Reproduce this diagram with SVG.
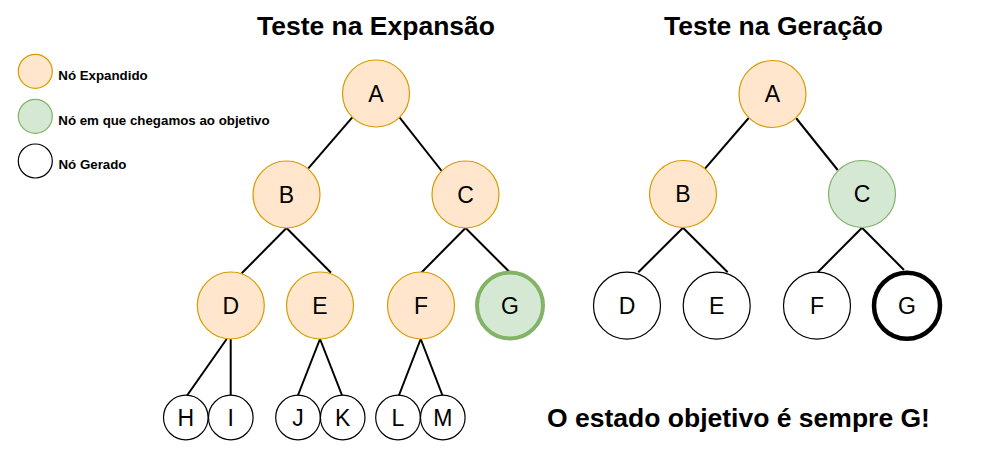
<svg xmlns="http://www.w3.org/2000/svg" width="994" height="458" viewBox="0 0 994 458">
<style>
.bg{fill:#ffffff}
.exp{fill:#ffe6cc;stroke:#d79b00;stroke-width:1.2}
.goal{fill:#d5e8d4;stroke:#82b366;stroke-width:1.2}
.goalT{fill:#d5e8d4;stroke:#82b366;stroke-width:4}
.gen{fill:#ffffff;stroke:#000000;stroke-width:1.2}
.genT{fill:#ffffff;stroke:#000000;stroke-width:4.5}
.lbl{font-family:"Liberation Sans",Arial,sans-serif;font-size:23px;fill:#000000;text-anchor:middle}
.title{font-family:"Liberation Sans",Arial,sans-serif;font-size:26.5px;font-weight:bold;fill:#000000;text-anchor:middle}
.leg{font-family:"Liberation Sans",Arial,sans-serif;font-size:13.3px;font-weight:bold;fill:#000000}
.edge{stroke:#000000;stroke-width:2;fill:none}
</style>
<rect class="bg" x="0" y="0" width="994" height="458"/>

<g id="titles">
<text class="title" x="376" y="35">Teste na Expansão</text>
<text class="title" x="773.5" y="35">Teste na Geração</text>
<text class="title" x="738.5" y="426.5">O estado objetivo é sempre G!</text>
</g>

<g id="legend">
<circle class="exp" cx="35.3" cy="71.3" r="17"/>
<text class="leg" x="58.3" y="80">Nó Expandido</text>
<circle class="goal" cx="35.3" cy="116.3" r="17"/>
<text class="leg" x="58.3" y="124.5">Nó em que chegamos ao objetivo</text>
<circle class="gen" cx="35.3" cy="161" r="17"/>
<text class="leg" x="58.5" y="169.3">Nó Gerado</text>
</g>

<g id="connectors">
<line class="edge" x1="352.3" y1="117.3" x2="308.3" y2="168.3"/>
<line class="edge" x1="399.7" y1="117.7" x2="441.7" y2="171"/>
<line class="edge" x1="286.5" y1="228" x2="241.7" y2="273.3"/>
<line class="edge" x1="286.5" y1="228" x2="331" y2="272.7"/>
<line class="edge" x1="465.5" y1="228" x2="421" y2="273"/>
<line class="edge" x1="465.5" y1="228" x2="510" y2="272.5"/>
<line class="edge" x1="226.7" y1="339" x2="186.7" y2="396"/>
<line class="edge" x1="230.7" y1="339" x2="230.7" y2="396"/>
<line class="edge" x1="320" y1="339" x2="297.7" y2="396"/>
<line class="edge" x1="320" y1="339" x2="342.3" y2="396"/>
<line class="edge" x1="420.7" y1="339" x2="398.7" y2="396"/>
<line class="edge" x1="420.7" y1="339" x2="442.7" y2="396"/>
<line class="edge" x1="748.7" y1="118" x2="705" y2="168.7"/>
<line class="edge" x1="796" y1="118" x2="837.7" y2="170"/>
<line class="edge" x1="683" y1="227.7" x2="638.3" y2="272.3"/>
<line class="edge" x1="683" y1="227.7" x2="727.7" y2="272.3"/>
<line class="edge" x1="862" y1="227.7" x2="817.7" y2="272.3"/>
<line class="edge" x1="862" y1="227.7" x2="904" y2="270"/>
</g>

<g id="L-A"><circle class="exp" cx="376" cy="93.5" r="33.5"/><text class="lbl" x="376" y="101.7">A</text></g>
<g id="L-B"><circle class="exp" cx="286.5" cy="194.5" r="33.5"/><text class="lbl" x="286.5" y="202.7">B</text></g>
<g id="L-C"><circle class="exp" cx="465.5" cy="194.5" r="33.5"/><text class="lbl" x="465.5" y="202.7">C</text></g>
<g id="L-D"><circle class="exp" cx="230.8" cy="305.5" r="33.5"/><text class="lbl" x="230.8" y="313.7">D</text></g>
<g id="L-E"><circle class="exp" cx="320" cy="305.5" r="33.5"/><text class="lbl" x="320" y="313.7">E</text></g>
<g id="L-F"><circle class="exp" cx="421" cy="305.5" r="33.5"/><text class="lbl" x="421" y="313.7">F</text></g>
<g id="L-G"><circle class="goalT" cx="510" cy="305.5" r="33"/><text class="lbl" x="510" y="313.7">G</text></g>
<g id="L-H"><circle class="gen" cx="185.8" cy="417.5" r="22.3"/><text class="lbl" x="185.8" y="425.7">H</text></g>
<g id="L-I"><circle class="gen" cx="230.8" cy="417.5" r="22.3"/><text class="lbl" x="230.8" y="425.7">I</text></g>
<g id="L-J"><circle class="gen" cx="298" cy="417.5" r="22.3"/><text class="lbl" x="298" y="425.7">J</text></g>
<g id="L-K"><circle class="gen" cx="342.7" cy="417.5" r="22.3"/><text class="lbl" x="342.7" y="425.7">K</text></g>
<g id="L-L"><circle class="gen" cx="398" cy="417.5" r="22.3"/><text class="lbl" x="398" y="425.7">L</text></g>
<g id="L-M"><circle class="gen" cx="442.8" cy="417.5" r="22.3"/><text class="lbl" x="442.8" y="425.7">M</text></g>

<g id="R-A"><circle class="exp" cx="772.5" cy="94" r="33.5"/><text class="lbl" x="772.5" y="102.2">A</text></g>
<g id="R-B"><circle class="exp" cx="683" cy="194" r="33.5"/><text class="lbl" x="683" y="202.2">B</text></g>
<g id="R-C"><circle class="goal" cx="862" cy="194" r="33.5"/><text class="lbl" x="862" y="202.2">C</text></g>
<g id="R-D"><circle class="gen" cx="627" cy="305.7" r="33.5"/><text class="lbl" x="627" y="313.9">D</text></g>
<g id="R-E"><circle class="gen" cx="716.7" cy="305.7" r="33.5"/><text class="lbl" x="716.7" y="313.9">E</text></g>
<g id="R-F"><circle class="gen" cx="817" cy="305.7" r="33.5"/><text class="lbl" x="817" y="313.9">F</text></g>
<g id="R-G"><circle class="genT" cx="907" cy="305.7" r="33"/><text class="lbl" x="907" y="313.9">G</text></g>
</svg>
